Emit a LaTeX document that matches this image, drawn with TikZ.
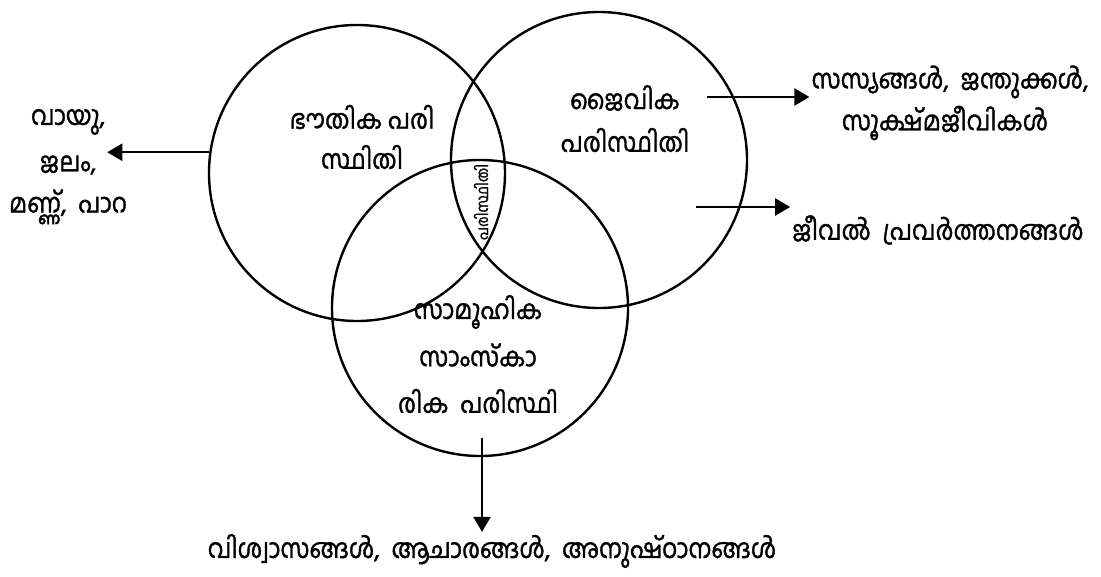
\documentclass[tikz,border=0pt]{standalone}
\usepackage{fontspec}
\newfontfamily\mlfont[Script=Malayalam, FakeBold=1.2, FakeStretch=0.89]{Hind Kochi}
\usetikzlibrary{arrows.meta}

\begin{document}
\begin{tikzpicture}[x=1pt, y=-1pt]
	\tikzstyle{sphere} = [ draw, circle, line width=2.4pt, minimum size=296pt, inner sep=0pt ];
	\tikzstyle{word} = [ font={\mlfont\fontsize{27}{30}\selectfont}, inner sep=2pt ];
	\tikzstyle{small} = [ font={\mlfont\fontsize{16}{18}\selectfont}, inner sep=1pt ];
	\tikzstyle{point} = [ -{Triangle[length=15pt, width=17pt]}, line width=2.4pt ];

	\useasboundingbox (0,0) rectangle (1101,576);

	% the three circles
	\foreach \n/\x/\y in {phys/357/173, bio/599/160, soc/480/308} {
		\node[sphere] (\n) at (\x,\y) {};
	}

	% texts inside the circles
	\node[word] (physA) at (362,117) {ഭൗതിക പരി};
	\node[word] (physB) at (362,157) {സ്ഥിതി};
	\node[word] (bioA)  at (625,98)  {ജൈവിക};
	\node[word] (bioB)  at (625,140) {പരിസ്ഥിതി};
	\node[word] (socA)  at (478,312) {സാമൂഹിക};
	\node[word] (socB)  at (478,355) {സാംസ്കാ};
	\node[word] (socC)  at (478,401) {രിക\ \ പരിസ്ഥി};
	\node[small, rotate=90] (mid) at (481,202) {പരിസ്ഥിതി};

	% texts outside
	\node[word] (air)     at (68,122)  {വായു,};
	\node[word] (water)   at (68,165)  {ജലം,};
	\node[word] (soil)    at (68,207)  {മണ്ണ്,\ \ പാറ};
	\node[word] (species) at (950,82)  {സസ്യങ്ങൾ,\ \ ജന്തുക്കൾ,};
	\node[word] (micro)   at (945,123) {സൂക്ഷ്മജീവികൾ};
	\node[word] (life)    at (938,230) {ജീവൽ\ \ പ്രവർത്തനങ്ങൾ};
	\node[word] (beliefs) at (492,551) {വിശ്വാസങ്ങൾ,\ \ ആചാരങ്ങൾ,\ \ അനുഷ്ഠാനങ്ങൾ};

	% arrows
	\coordinate (bioout)  at (707,97);
	\coordinate (lifeout) at (696,207);
	\coordinate (socout)  at (482,438);

	\draw[point] (phys.172) -- (phys.172 -| air.east);
	\draw[point] (bioout) -- (bioout -| species.west);
	\draw[point] (lifeout) -- (lifeout -| life.west);
	\draw[point] (socout) -- (socout |- beliefs.north);
\end{tikzpicture}
\end{document}
